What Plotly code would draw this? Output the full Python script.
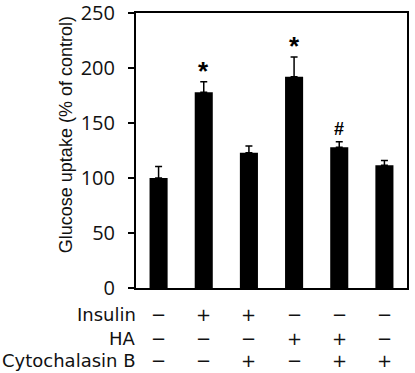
import plotly.graph_objects as go

categories = [0, 1, 2, 3, 4, 5]
means = [100, 178, 123, 192, 128, 111.5]
err_plus = [10.5, 9.5, 6, 18, 5, 4.5]
marks = ["", "*", "", "*", "#", ""]
row_labels = ["Insulin", "HA", "Cytochalasin B"]
insulin = ["−", "+", "+", "−", "−", "−"]
ha = ["−", "−", "−", "+", "+", "−"]
cyto = ["−", "−", "+", "−", "+", "+"]
yticks = [0, 50, 100, 150, 200, 250]
y_title = "Glucose uptake (% of control)"

fig = go.Figure()
fig.add_trace(go.Bar(
    x=categories, y=means, width=0.4,
    marker=dict(color="black", line=dict(width=0)),
    error_y=dict(type="data", symmetric=False, array=err_plus,
                 arrayminus=[0] * 6, color="black", thickness=1.5, width=3.5),
    showlegend=False,
))

annotations = []
for c, m, e, mk in zip(categories, means, err_plus, marks):
    if mk:
        annotations.append(dict(
            x=c, y=m + e, xref="x", yref="y", text="<b>" + mk + "</b>", showarrow=False,
            yanchor="bottom", yshift=-6 if mk == "*" else 1,
            font=dict(family="Liberation Sans, Arial", size=26 if mk == "*" else 18, color="black"),
        ))

row_y = [-0.098, -0.182, -0.262]
rows = [insulin, ha, cyto]
for lab, ry, signs in zip(row_labels, row_y, rows):
    annotations.append(dict(
        x=0.008, y=ry, xref="paper", yref="paper", text=lab, showarrow=False,
        xanchor="right", yanchor="middle",
        font=dict(family="DejaVu Sans", size=18, color="#111"),
    ))
    for c, s in zip(categories, signs):
        annotations.append(dict(
            x=c, y=ry, xref="x", yref="paper", text=s, showarrow=False,
            xanchor="center", yanchor="middle",
            font=dict(family="DejaVu Sans", size=18, color="#111"),
        ))

annotations.append(dict(
    x=-0.258, y=0.556, xref="paper", yref="paper", text=y_title, showarrow=False,
    textangle=-90, xanchor="center", yanchor="middle",
    font=dict(family="Liberation Sans, Arial", size=18, color="#111"),
))

fig.update_layout(
    width=415, height=373,
    margin=dict(l=136, r=8, t=13, b=85, autoexpand=False),
    paper_bgcolor="white", plot_bgcolor="white",
    bargap=0.6,
    annotations=annotations,
    xaxis=dict(range=[-0.5, 5.5], showticklabels=False, ticks="", automargin=False,
               showline=True, linecolor="black", linewidth=2, mirror=True,
               showgrid=False, zeroline=False),
    yaxis=dict(range=[0, 250], tickvals=yticks, ticks="outside", ticklen=6,
               tickwidth=1.5, tickcolor="black", automargin=False,
               showline=True, linecolor="black", linewidth=2, mirror=True,
               showgrid=False, zeroline=False, ticklabelstandoff=9,
               ticklabeloverflow="allow",
               tickfont=dict(family="Open Sans", size=20, color="#111")),
)

fig.write_html("out.html")
